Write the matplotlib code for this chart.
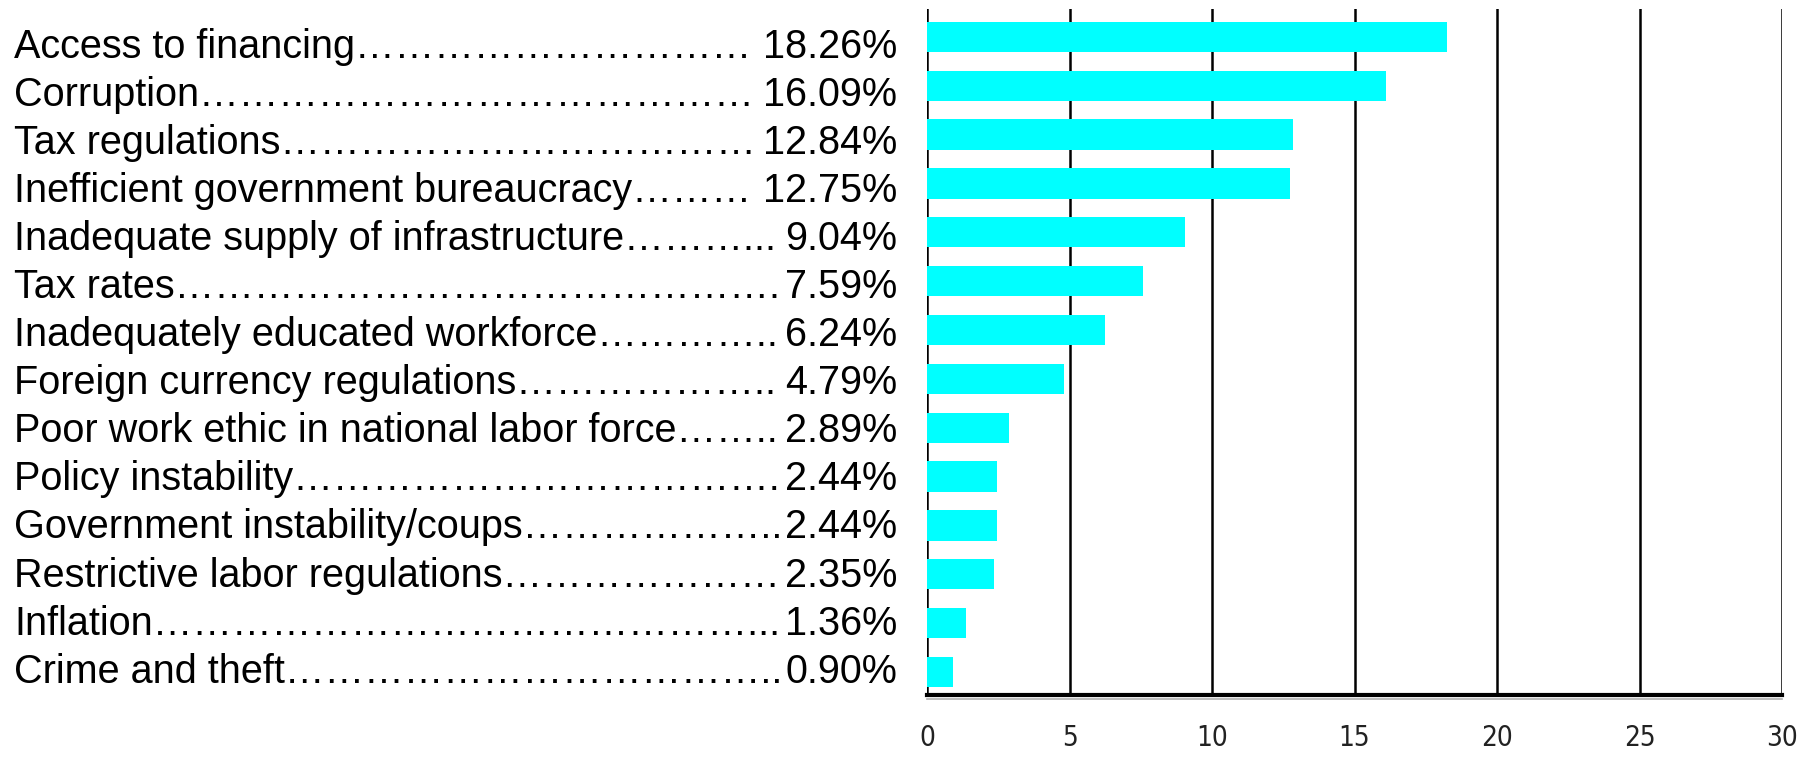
import matplotlib
matplotlib.use("Agg")
import matplotlib.pyplot as plt
from matplotlib.lines import Line2D

categories = [
    "Access to financing",
    "Corruption",
    "Tax regulations",
    "Inefficient government bureaucracy",
    "Inadequate supply of infrastructure",
    "Tax rates",
    "Inadequately educated workforce",
    "Foreign currency regulations",
    "Poor work ethic in national labor force",
    "Policy instability",
    "Government instability/coups",
    "Restrictive labor regulations",
    "Inflation",
    "Crime and theft",
]
values = [18.26, 16.09, 12.84, 12.75, 9.04, 7.59, 6.24, 4.79, 2.89, 2.44, 2.44, 2.35, 1.36, 0.90]
value_labels = ["18.26%", "16.09%", "12.84%", "12.75%", "9.04%", "7.59%", "6.24%",
                "4.79%", "2.89%", "2.44%", "2.44%", "2.35%", "1.36%", "0.90%"]
xticks = [0, 5, 10, 15, 20, 25, 30]

W, H = 1803, 758
fig = plt.figure(figsize=(W / 100, H / 100), dpi=100)
ax = fig.add_axes([927 / W, 1 - 695 / H, (1782 - 927) / W, (695 - 9) / H])

ypos = list(range(len(categories)))
ax.barh(ypos, values, height=0.62, color="#00FFFF", zorder=3)
ax.set_xlim(0, 30)
ax.set_ylim(13.47, -0.57)
ax.set_yticks([])
ax.set_xticks(xticks)
ax.set_xticklabels([str(t) for t in xticks], family="DejaVu Sans", fontstretch="condensed",
                   fontsize=20, color="#222222")
ax.tick_params(axis="x", length=0, pad=21)
ax.grid(axis="x", color="black", linewidth=1.8, zorder=1)
ax.set_axisbelow(True)
for s in ["top", "right", "left"]:
    ax.spines[s].set_visible(False)
ax.spines["bottom"].set_linewidth(3)
ax.spines["bottom"].set_zorder(4)
# faint shadow under the baseline
fig.add_artist(Line2D([927 / W, 1782 / W], [1 - 698.5 / H, 1 - 698.5 / H],
                      color="#b0b0b0", linewidth=1.2, transform=fig.transFigure))

# Labels with dot leaders
fs = 28.5
left_px = 14
right_px = 897
base0 = 57.5
step = 48.1
renderer = fig.canvas.get_renderer()
for i, (name, vl) in enumerate(zip(categories, value_labels)):
    yf = 1 - (base0 + i * step) / H
    vt = fig.text(right_px / W, yf, vl, ha="right", va="baseline", fontsize=fs,
                  family="Liberation Sans")
    vbb = vt.get_window_extent(renderer)
    nt = fig.text(left_px / W, yf, name, ha="left", va="baseline", fontsize=fs,
                  family="Liberation Sans")
    n = 0
    while True:
        nt.set_text(name + "\u2026" * (n + 1))
        bb = nt.get_window_extent(renderer)
        if bb.x1 > vbb.x0 - 4:
            nt.set_text(name + "\u2026" * n)
            break
        n += 1
    m = 0
    while True:
        nt.set_text(name + "\u2026" * n + "." * (m + 1))
        bb = nt.get_window_extent(renderer)
        if bb.x1 > vbb.x0 - 2:
            nt.set_text(name + "\u2026" * n + "." * m)
            break
        m += 1

fig.savefig("out.png", dpi=100)
